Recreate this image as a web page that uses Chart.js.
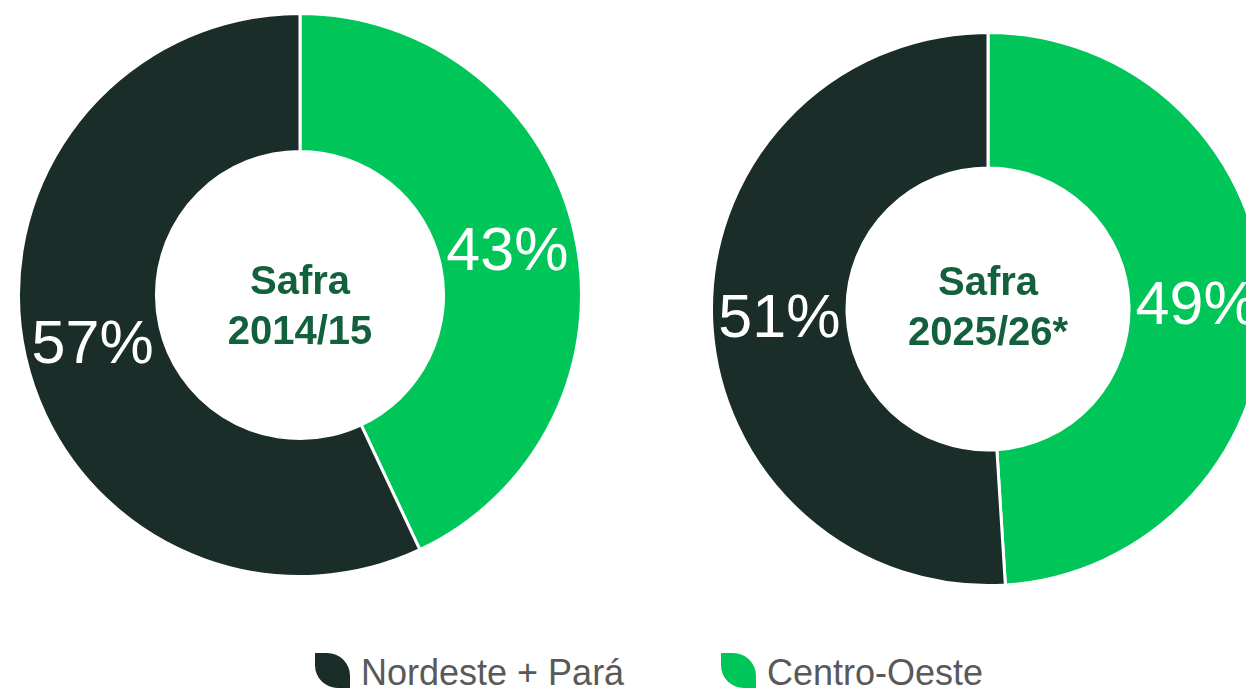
<!DOCTYPE html>
<html>
<head>
<meta charset="utf-8">
<script src="https://cdn.jsdelivr.net/npm/chart.js@4"></script>
<style>
  html, body { margin: 0; padding: 0; background: #fff; overflow: hidden; width: 1246px; height: 688px; }
  body { position: relative; font-family: "Liberation Sans", Arial, sans-serif; }
  .pie { position: absolute; }
  #legend { position: absolute; top: 653px; left: 0; width: 1246px; }
  .item { position: absolute; display: flex; align-items: flex-start; color: #595959; font-size: 36px; line-height: 36px; }
  .leaf { width: 35px; height: 35px; border-radius: 0 65% 0 65%; margin-right: 11px; margin-top: 0px; }
  .item span { position: relative; top: 2px; }
</style>
</head>
<body>
<canvas id="chartLeft" class="pie" width="566" height="566" style="left:17px;top:12px"></canvas>
<canvas id="chartRight" class="pie" width="556" height="556" style="left:710px;top:31px"></canvas>
<div id="legend"></div>

<script>
// data
const regions = ["Centro-Oeste", "Nordeste + Pará"];
const regionColors = ["#00c65a", "#1a2d28"];
const safra1415 = [43, 57];
const safra2526 = [49, 51];
const centerLeft = ["Safra", "2014/15"];
const centerRight = ["Safra", "2025/26*"];

// legend shows Nordeste first
const legendOrder = [1, 0];
const legendLeft = [315, 721];

const centerText = {
  id: "centerText",
  afterDraw(chart, args, opts) {
    const ctx = chart.ctx;
    const meta = chart.getDatasetMeta(0);
    const arc = meta.data[0];
    const cx = arc.x, cy = arc.y;

    // percentage labels, in the middle of each ring slice
    ctx.save();
    ctx.fillStyle = "#ffffff";
    ctx.font = "61px 'Liberation Sans', Arial, sans-serif";
    ctx.textAlign = "center";
    ctx.textBaseline = "middle";
    meta.data.forEach((el, i) => {
      const p = el.tooltipPosition();
      ctx.fillText(chart.data.datasets[0].data[i] + "%", p.x, p.y + 5);
    });

    // center title
    ctx.fillStyle = "#13603c";
    ctx.font = "bold 40px 'Liberation Sans', Arial, sans-serif";
    ctx.textBaseline = "alphabetic";
    opts.lines.forEach((t, i) => {
      ctx.fillText(t, cx, cy + opts.offsets[i]);
    });
    ctx.restore();
  }
};

function makeDoughnut(id, values, lines, offsets) {
  return new Chart(document.getElementById(id), {
    type: "doughnut",
    data: {
      labels: regions,
      datasets: [{
        data: values,
        backgroundColor: regionColors,
        borderColor: "#ffffff",
        borderWidth: 3,
      }],
    },
    options: {
      responsive: false,
      animation: false,
      cutout: "51%",
      plugins: {
        legend: { display: false },
        tooltip: { enabled: false },
        centerText: { lines: lines, offsets: offsets },
      },
    },
    plugins: [centerText],
  });
}

makeDoughnut("chartLeft", safra1415, centerLeft, [-1, 49]);
makeDoughnut("chartRight", safra2526, centerRight, [-14, 36]);

const legend = document.getElementById("legend");
legendOrder.forEach((idx, k) => {
  const item = document.createElement("div");
  item.className = "item";
  item.style.left = legendLeft[k] + "px";
  item.innerHTML = '<div class="leaf" style="background:' + regionColors[idx] + '"></div><span>' + regions[idx] + "</span>";
  legend.appendChild(item);
});
</script>
</body>
</html>
